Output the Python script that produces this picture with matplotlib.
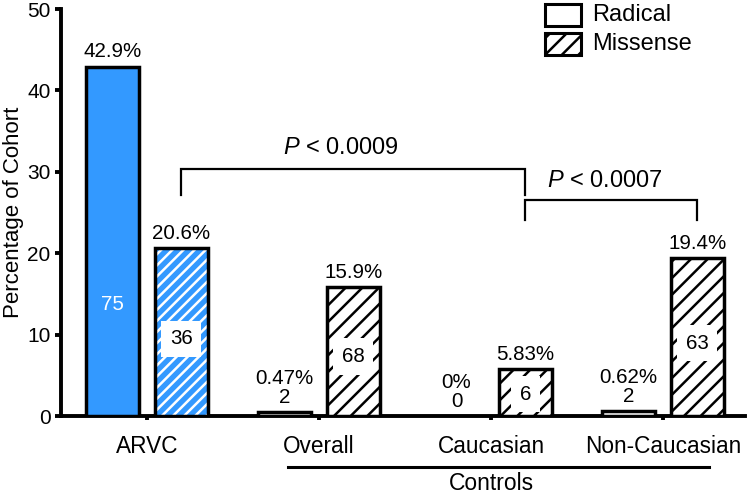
import matplotlib
matplotlib.use("Agg")
import matplotlib.pyplot as plt
import matplotlib.transforms as mtransforms
from matplotlib.patches import Rectangle
import numpy as np

plt.rcParams['font.family'] = ['Liberation Sans', 'DejaVu Sans']
plt.rcParams['mathtext.fontset'] = 'custom'
plt.rcParams['mathtext.it'] = 'Liberation Sans:italic'
plt.rcParams['mathtext.rm'] = 'Liberation Sans'
plt.rcParams['hatch.linewidth'] = 1.8

# ---- data ----
categories = ["ARVC", "Overall", "Caucasian", "Non-Caucasian"]
radical_pct = [42.9, 0.47, 0.0, 0.62]
missense_pct = [20.6, 15.9, 5.83, 19.4]
radical_n = [75, 2, 0, 2]
missense_n = [36, 68, 6, 63]
radical_lbl = ["42.9%", "0.47%", "0%", "0.62%"]
missense_lbl = ["20.6%", "15.9%", "5.83%", "19.4%"]
yticks = [0, 10, 20, 30, 40, 50]
p_texts = ["0.0009", "0.0007"]
legend_labels = ["Radical", "Missense"]

blue = "#3399ff"
fig = plt.figure(figsize=(7.5, 4.94), dpi=100)
ax = fig.add_axes([61/750, 1-416/494, (745-61)/750, (416-9)/494])

x = np.arange(len(categories))
off = 0.2
w = 0.31
ebw = 2.5
lfs = 14.8

for i in range(len(categories)):
    # radical bar
    if i == 0:
        ax.bar(x[i]-off, radical_pct[i], w, color=blue, edgecolor='black', linewidth=ebw, zorder=3)
    elif radical_pct[i] > 0:
        ax.bar(x[i]-off, radical_pct[i], w, color='white', edgecolor='black', linewidth=ebw, zorder=3)
    # missense bar
    if i == 0:
        ax.bar(x[i]+off, missense_pct[i], w, color=blue, edgecolor='white', hatch='///', linewidth=0, zorder=3)
        ax.bar(x[i]+off, missense_pct[i], w, color='none', edgecolor='black', linewidth=ebw, zorder=4)
    else:
        ax.bar(x[i]+off, missense_pct[i], w, color='white', edgecolor='black', hatch='//', linewidth=ebw, zorder=3)

    # labels
    if i == 0:
        ax.annotate(radical_lbl[i], (x[i]-off, radical_pct[i]), xytext=(0, 4.5), textcoords='offset points',
                    ha='center', va='bottom', fontsize=lfs)
        ax.text(x[i]-off, radical_pct[i]*0.32, str(radical_n[i]), color='white', ha='center', va='center',
                fontsize=lfs, zorder=6)
    else:
        ax.annotate(f"{radical_lbl[i]}\n{radical_n[i]}", (x[i]-off, radical_pct[i]), xytext=(0, 3.5),
                    textcoords='offset points', ha='center', va='bottom', fontsize=lfs, linespacing=1.0)
    ax.annotate(missense_lbl[i], (x[i]+off, missense_pct[i]), xytext=(0, 3.5), textcoords='offset points',
                ha='center', va='bottom', fontsize=lfs)
    ax.text(x[i]+off, missense_pct[i]*0.46, str(missense_n[i]), ha='center', va='center', fontsize=lfs,
            zorder=6, bbox=dict(boxstyle='square,pad=0.42', facecolor='white', edgecolor='none'))

# brackets
def bracket(x1, x2, ylow, ytop, text, dx, ty):
    ax.plot([x1, x1, x2, x2], [ylow, ytop, ytop, ylow], color='black', lw=1.6, zorder=5,
            solid_joinstyle='miter', clip_on=False)
    ax.text((x1 + x2) / 2 + dx, ty, r"$\mathit{P}$" + " < " + text, ha='center', va='baseline',
            fontsize=17)

bracket(x[0]+off, x[2]+off, 27.2, 30.3, p_texts[0], -0.07, 32.2)
bracket(x[2]+off, x[3]+off, 24.1, 26.5, p_texts[1], -0.04, 28.1)

ax.set_xlim(-0.5, 3.477)
ax.set_ylim(0, 50)
ax.set_yticks(yticks)
ax.set_xticks(x)
ax.set_xticklabels(categories, fontsize=16.3)
ax.tick_params(axis='y', labelsize=15, width=2.8, length=4.5, pad=3, direction='out')
ax.tick_params(axis='x', width=2.8, length=3, pad=11, direction='out')
ax.set_ylabel("Percentage of Cohort", fontsize=16, labelpad=2)
for s in ['top', 'right']:
    ax.spines[s].set_visible(False)
for s in ['left', 'bottom']:
    ax.spines[s].set_linewidth(2.8)

# controls grouping line
trans = mtransforms.blended_transform_factory(ax.transData, ax.transAxes)
ax.plot([0.82, 3.27], [-0.125, -0.125], color='black', lw=2.2, transform=trans, clip_on=False)
ax.text(2.0, (416-490)/407, "Controls", transform=trans, ha='center', va='baseline', fontsize=16.5)

# legend
for j, (lab, h) in enumerate(zip(legend_labels, [None, '//'])):
    y0 = 1 - (26 + 29*j)/494
    r = Rectangle((545/750, y0), 36/750, 22/494, transform=fig.transFigure, facecolor='white',
                  edgecolor='black', linewidth=2.2, hatch=h, clip_on=False)
    fig.add_artist(r)
    fig.text(592/750, 1 - (15 + 29*j)/494, lab, ha='left', va='center', fontsize=17)

fig.savefig("out.png", dpi=100)
